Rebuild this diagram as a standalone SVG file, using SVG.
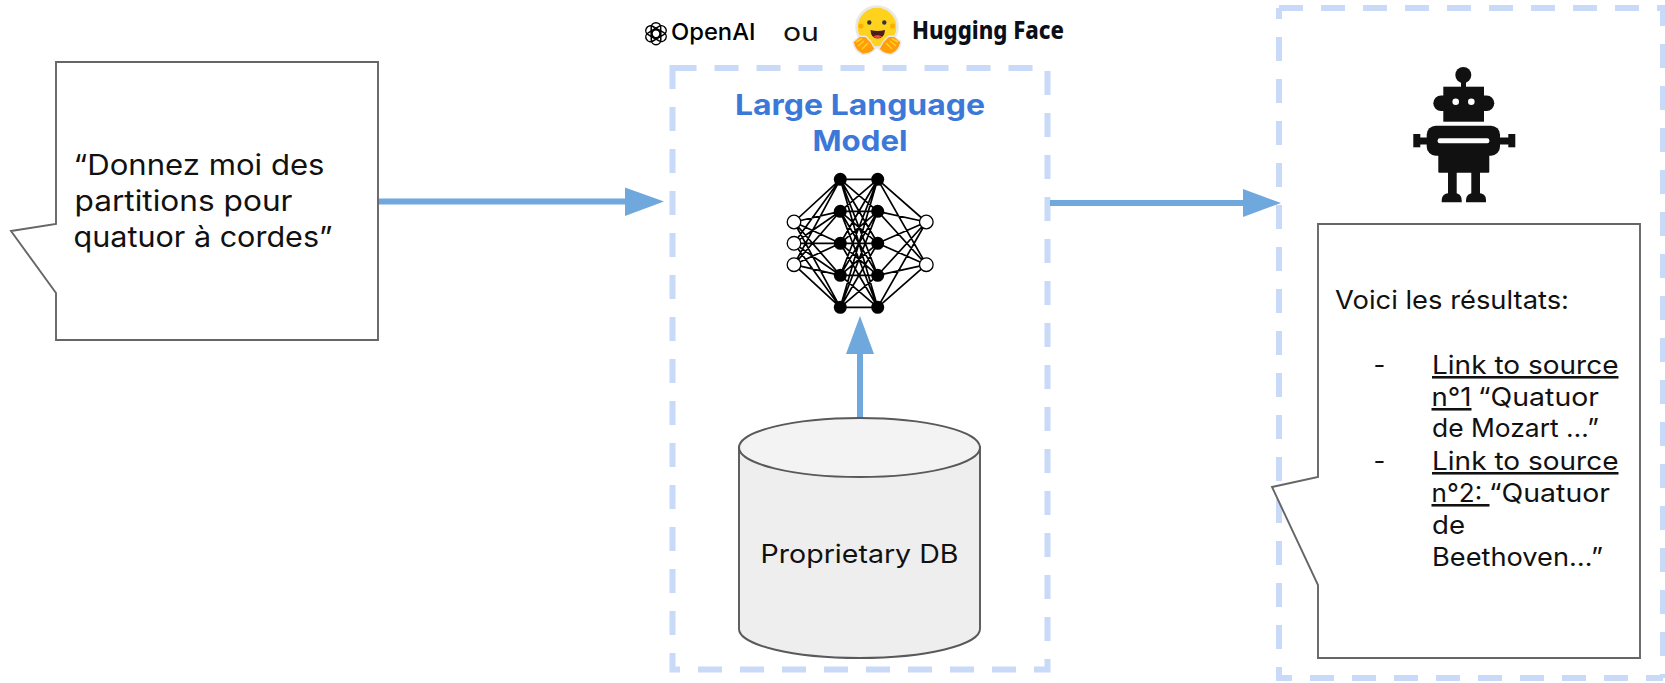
<svg xmlns="http://www.w3.org/2000/svg" width="1665" height="683" viewBox="0 0 1665 683">
<style>
text{font-family:"Inter","Liberation Sans",sans-serif;fill:#111;white-space:pre}
.t30{font-size:28.5px}
.t27{font-size:25.6px}
.u{text-decoration:underline;text-decoration-thickness:2.5px}
.dash{fill:none;stroke:#c9daf8;stroke-width:6;stroke-dasharray:24 18}
.call{fill:#fff;stroke:#666;stroke-width:1.9}
.conn{fill:none;stroke:#6fa8dc;stroke-width:6}
.head{fill:#6fa8dc}
.db{stroke:#595959;stroke-width:1.9}
</style>
<rect width="1665" height="683" fill="#fff"/>

<g id="llm-frame"><path class="dash" d="M672.5 68H1047.5V669.5H672.5Z"/></g>
<g id="output-frame">
<path class="dash" d="M1279 8H1663V678"/>
<path class="dash" stroke-dashoffset="7" d="M1663 678H1279V8"/>
</g>

<g id="connectors">
<path class="conn" d="M378 201.5H627"/><path class="head" d="M625 187.5V216L664 201.5Z"/>
<path class="conn" d="M1050 203H1245"/><path class="head" d="M1243 189V217L1281 203Z"/>
<path class="conn" d="M860 418V352"/><path class="head" d="M846 354H874L860 316Z"/>
</g>

<g id="prompt-callout">
<path class="call" d="M56 62H378V340H56V293L11 231L56 224Z"/>
<text class="t30" x="73.5" y="175" textLength="251" lengthAdjust="spacingAndGlyphs">“Donnez moi des</text>
<text class="t30" x="74.5" y="211" textLength="218" lengthAdjust="spacingAndGlyphs">partitions pour</text>
<text class="t30" x="73.5" y="247" textLength="259" lengthAdjust="spacingAndGlyphs">quatuor à cordes”</text>
</g>

<g id="openai-logo">
<g fill="none" stroke="#000" stroke-width="1.5">
<rect x="645" y="29" width="15" height="9.5" rx="4.7" transform="rotate(-30 656 33.7)"/>
<rect x="645" y="29" width="15" height="9.5" rx="4.7" transform="rotate(30 656 33.7)"/>
<rect x="645" y="29" width="15" height="9.5" rx="4.7" transform="rotate(90 656 33.7)"/>
<rect x="645" y="29" width="15" height="9.5" rx="4.7" transform="rotate(150 656 33.7)"/>
<rect x="645" y="29" width="15" height="9.5" rx="4.7" transform="rotate(210 656 33.7)"/>
<rect x="645" y="29" width="15" height="9.5" rx="4.7" transform="rotate(270 656 33.7)"/>
</g>
<text x="671" y="40" font-size="23" font-weight="500" style="fill:#000" textLength="84.5" lengthAdjust="spacingAndGlyphs">OpenAI</text>
</g>
<text id="ou" class="t27" x="783" y="41" textLength="36" lengthAdjust="spacingAndGlyphs">ou</text>

<g id="huggingface-logo">
<circle cx="877" cy="27" r="20.5" fill="#ffd21e" stroke="#e8e8e8" stroke-width="2.5"/>
<circle cx="861" cy="26" r="2.5" fill="#ffad03"/><circle cx="892.5" cy="26" r="2.5" fill="#ffad03"/>
<circle cx="869.3" cy="22.5" r="2.2" fill="#32343d"/><circle cx="884.3" cy="22.5" r="2.2" fill="#32343d"/>
<path d="M870.5 30Q877.5 32 885 30Q884.5 38.5 877.5 38.5Q871 38.5 870.5 30Z" fill="#4a1d1d"/>
<path d="M873 36.5Q877.5 33.5 882 36.5Q877.5 40 873 36.5Z" fill="#ef4444"/>
<path d="M853 42L860 36L866 36.5L871 42L875 49Q870 55 862 54Q855 51 853 42Z" fill="#ff9d0b" stroke="#e8e8e8" stroke-width="1.4" stroke-linejoin="round"/>
<path d="M901 42L894 36L888 36.5L883 42L879 49Q884 55 892 54Q899 51 901 42Z" fill="#ff9d0b" stroke="#e8e8e8" stroke-width="1.4" stroke-linejoin="round"/>
<path d="M856 42L862 38.5M858 46L864 41M862 49L868 43M898 42L892 38.5M896 46L890 41M892 49L886 43" stroke="#ffd21e" stroke-width="1.5" fill="none"/>
<text x="912" y="38.5" font-size="24.5" font-weight="800" style="font-family:'Noto Sans','Open Sans',sans-serif;fill:#0b0f19" textLength="152" lengthAdjust="spacingAndGlyphs">Hugging Face</text>
</g>

<g id="llm-title">
<text x="735" y="115" font-size="28.5" font-weight="700" style="fill:#3c78d8" textLength="250" lengthAdjust="spacingAndGlyphs">Large Language</text>
<text x="812.5" y="151" font-size="28.5" font-weight="700" style="fill:#3c78d8" textLength="95" lengthAdjust="spacingAndGlyphs">Model</text>
</g>

<g id="neural-network">
<path fill="none" stroke="#000" stroke-width="1.7" d="
M794 222L840.3 179.3M794 222L840.3 211.3M794 222L840.3 243.3M794 222L840.3 275.3M794 222L840.3 307.3
M794 243.3L840.3 179.3M794 243.3L840.3 211.3M794 243.3L840.3 243.3M794 243.3L840.3 275.3M794 243.3L840.3 307.3
M794 264.7L840.3 179.3M794 264.7L840.3 211.3M794 264.7L840.3 243.3M794 264.7L840.3 275.3M794 264.7L840.3 307.3
M840.3 179.3L877.7 179.3M840.3 179.3L877.7 211.3M840.3 179.3L877.7 243.3M840.3 179.3L877.7 275.3M840.3 179.3L877.7 307.3
M840.3 211.3L877.7 179.3M840.3 211.3L877.7 211.3M840.3 211.3L877.7 243.3M840.3 211.3L877.7 275.3M840.3 211.3L877.7 307.3
M840.3 243.3L877.7 179.3M840.3 243.3L877.7 211.3M840.3 243.3L877.7 243.3M840.3 243.3L877.7 275.3M840.3 243.3L877.7 307.3
M840.3 275.3L877.7 179.3M840.3 275.3L877.7 211.3M840.3 275.3L877.7 243.3M840.3 275.3L877.7 275.3M840.3 275.3L877.7 307.3
M840.3 307.3L877.7 179.3M840.3 307.3L877.7 211.3M840.3 307.3L877.7 243.3M840.3 307.3L877.7 275.3M840.3 307.3L877.7 307.3
M877.7 179.3L926.3 222M877.7 211.3L926.3 222M877.7 243.3L926.3 222M877.7 275.3L926.3 222M877.7 307.3L926.3 222
M877.7 179.3L926.3 264.7M877.7 211.3L926.3 264.7M877.7 243.3L926.3 264.7M877.7 275.3L926.3 264.7M877.7 307.3L926.3 264.7"/>
<g fill="#fff" stroke="#000" stroke-width="1.3">
<circle cx="794" cy="222" r="6.8"/><circle cx="794" cy="243.3" r="6.8"/><circle cx="794" cy="264.7" r="6.8"/>
<circle cx="926.3" cy="222" r="6.8"/><circle cx="926.3" cy="264.7" r="6.8"/>
</g>
<g fill="#000">
<circle cx="840.3" cy="179.3" r="6.5"/><circle cx="840.3" cy="211.3" r="6.5"/><circle cx="840.3" cy="243.3" r="6.5"/><circle cx="840.3" cy="275.3" r="6.5"/><circle cx="840.3" cy="307.3" r="6.5"/>
<circle cx="877.7" cy="179.3" r="6.5"/><circle cx="877.7" cy="211.3" r="6.5"/><circle cx="877.7" cy="243.3" r="6.5"/><circle cx="877.7" cy="275.3" r="6.5"/><circle cx="877.7" cy="307.3" r="6.5"/>
</g>
</g>

<g id="proprietary-db">
<path class="db" fill="#eee" d="M739 447V629A120.5 29 0 0 0 980 629V447Z"/>
<ellipse class="db" cx="859.5" cy="447.5" rx="120.5" ry="29.5" fill="#f3f3f3"/>
<text class="t27" x="760.5" y="563" textLength="198" lengthAdjust="spacingAndGlyphs">Proprietary DB</text>
</g>

<g id="robot" fill="#111">
<circle cx="1463.3" cy="75" r="8"/>
<rect x="1461" y="80" width="5" height="8"/>
<rect x="1443.3" y="86.7" width="40.7" height="35"/>
<rect x="1433.3" y="95.5" width="61" height="15.5" rx="7.7"/>
<circle cx="1455.7" cy="101.7" r="3.3" fill="#fff"/><circle cx="1471.3" cy="101.7" r="3.3" fill="#fff"/>
<rect x="1426.7" y="125.7" width="73.3" height="30" rx="9"/>
<rect x="1438.3" y="140" width="51" height="32.7" rx="1"/>
<rect x="1437.7" y="138.3" width="51.6" height="5" rx="2" fill="#fff"/>
<rect x="1420" y="137.5" width="8" height="7"/><rect x="1413.3" y="134" width="7" height="13.3"/>
<rect x="1499" y="137.5" width="10" height="7"/><rect x="1508.3" y="134" width="7" height="13.3"/>
<rect x="1448" y="172" width="8.7" height="23"/><rect x="1471.3" y="172" width="8.7" height="23"/>
<path d="M1441.7 202.3V200Q1442 193 1450 193H1454Q1461.5 193 1461.7 200V202.3Z"/>
<path d="M1466 202.3V200Q1466.3 193 1474 193H1478Q1486 193 1486 200V202.3Z"/>
</g>

<g id="response-callout">
<path class="call" d="M1318 224H1640V658H1318V585L1272 487L1318 477Z"/>
<text class="t27" x="1335" y="309" textLength="234" lengthAdjust="spacingAndGlyphs">Voici les résultats:</text>
<text class="t27" x="1373.5" y="374">-</text>
<text class="t27 u" x="1432" y="374" textLength="186.5" lengthAdjust="spacingAndGlyphs">Link to source</text>
<text class="t27 u" x="1431.5" y="406" textLength="40" lengthAdjust="spacingAndGlyphs">n°1</text>
<text class="t27" x="1478" y="406" textLength="121" lengthAdjust="spacingAndGlyphs">“Quatuor</text>
<text class="t27" x="1432" y="437" textLength="167" lengthAdjust="spacingAndGlyphs">de Mozart …”</text>
<text class="t27" x="1373.5" y="470">-</text>
<text class="t27 u" x="1432" y="470" textLength="186.5" lengthAdjust="spacingAndGlyphs">Link to source</text>
<text class="t27 u" x="1431.5" y="502" textLength="58" lengthAdjust="spacingAndGlyphs">n°2: </text>
<text class="t27" x="1489" y="502" textLength="121" lengthAdjust="spacingAndGlyphs">“Quatuor</text>
<text class="t27" x="1432" y="534" textLength="33" lengthAdjust="spacingAndGlyphs">de</text>
<text class="t27" x="1432" y="565.5" textLength="171" lengthAdjust="spacingAndGlyphs">Beethoven…”</text>
</g>
</svg>
